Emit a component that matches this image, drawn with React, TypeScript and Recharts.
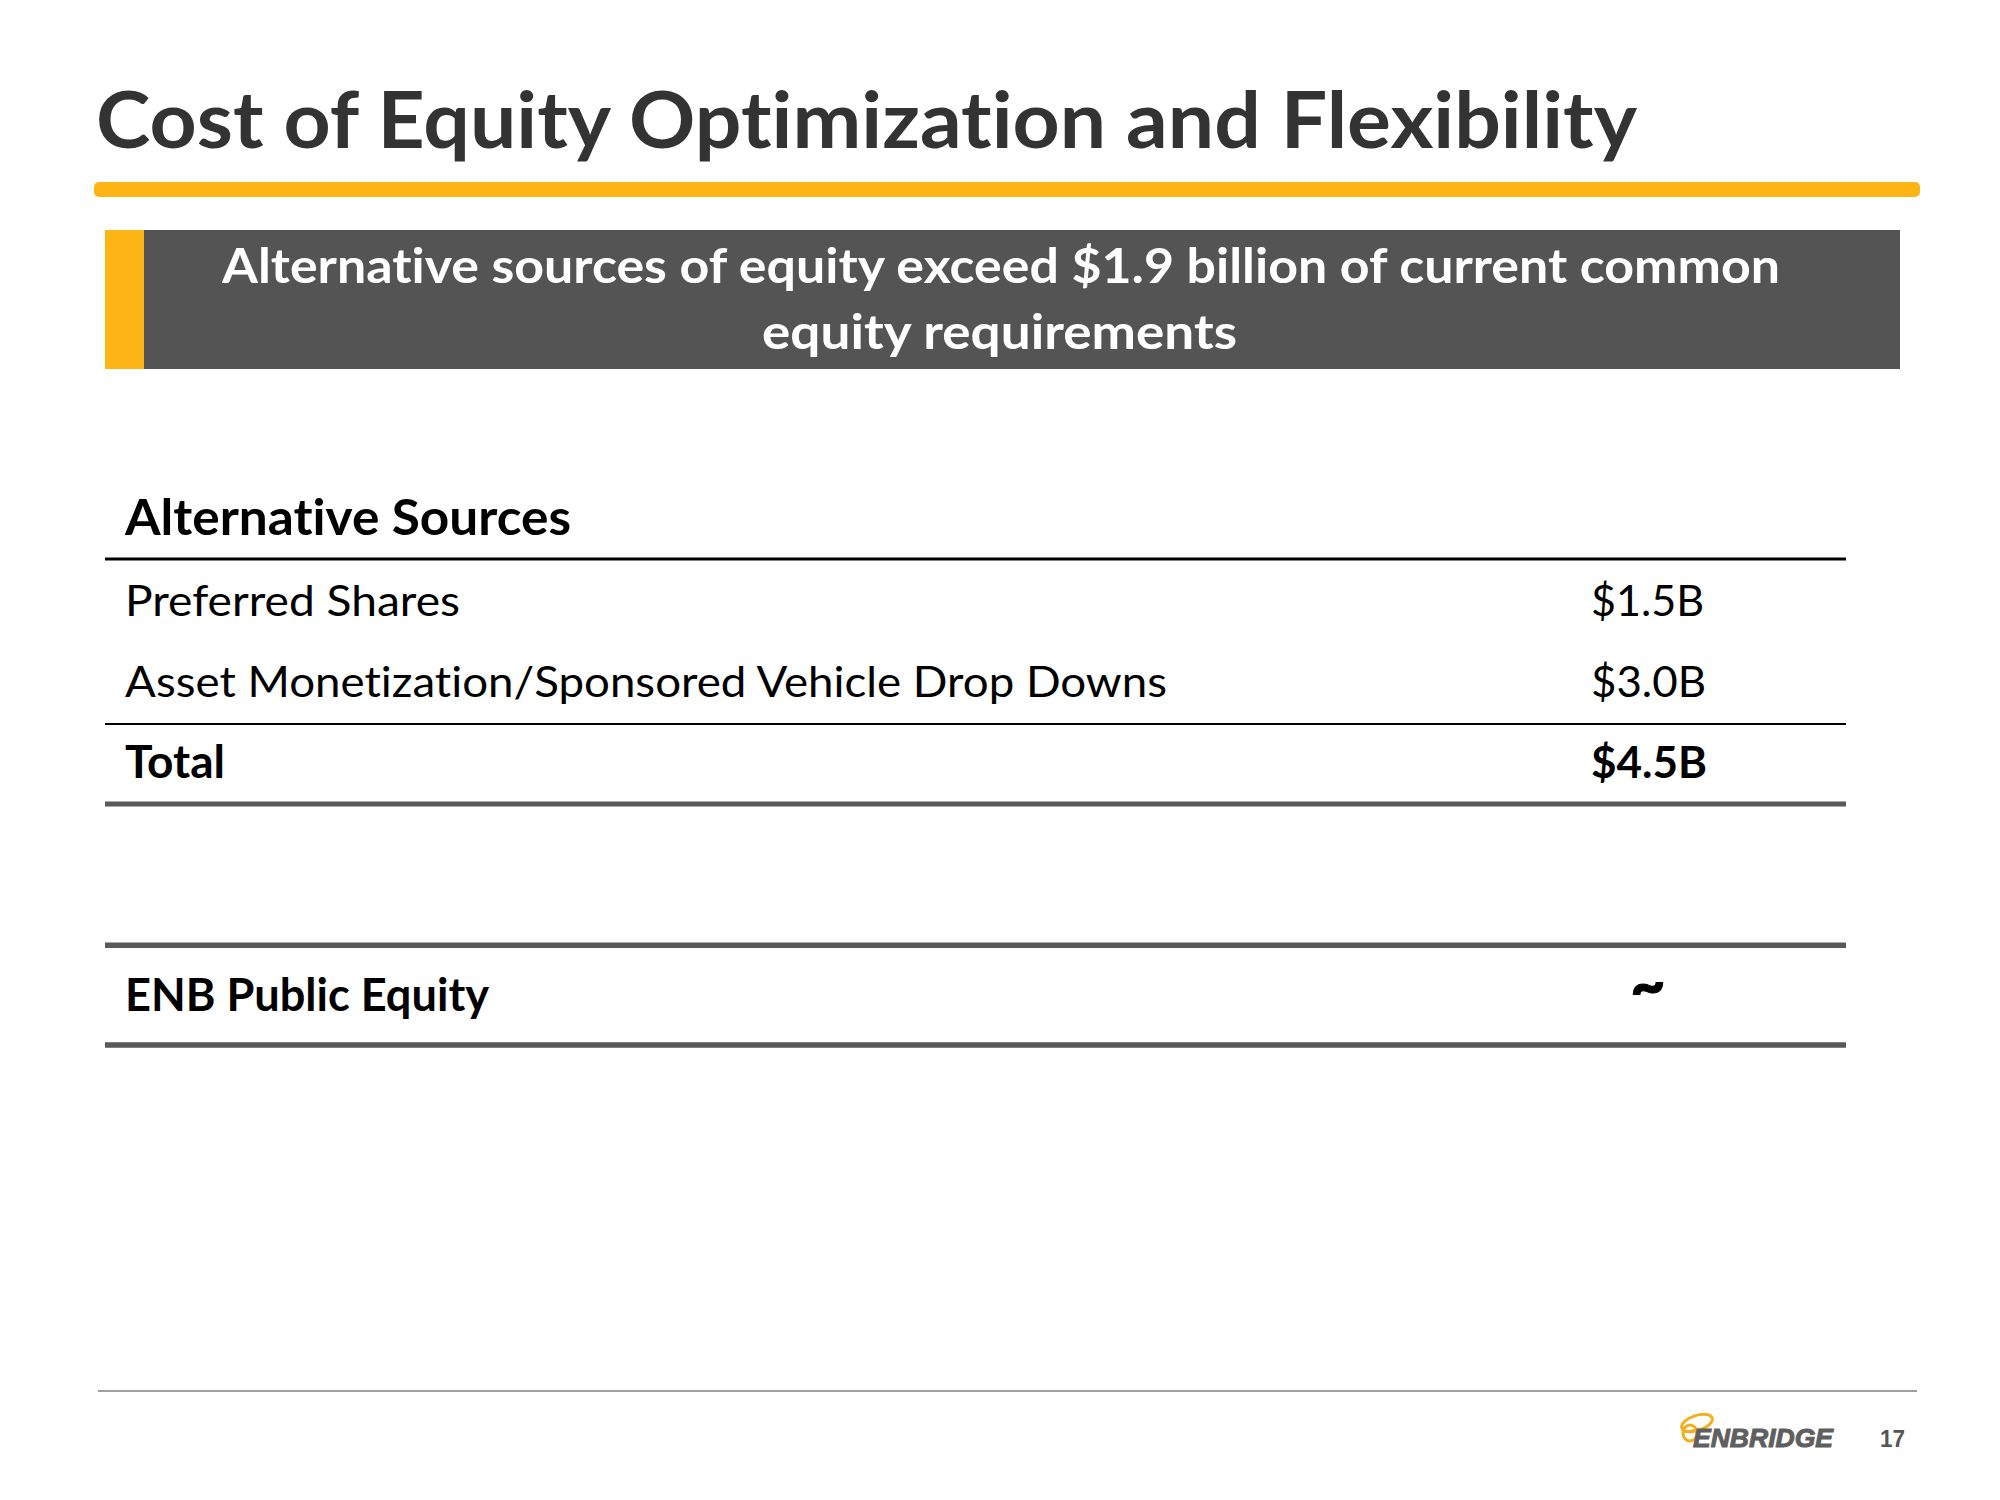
import React from 'react';
import { BarChart, Bar, XAxis, YAxis, LabelList, Customized } from 'recharts';

// ---------- data ----------
const titleText = 'Cost of Equity Optimization and Flexibility';
const bannerLines = ['Alternative sources of equity exceed $1.9 billion of current common', 'equity requirements'];
const tableHeader = 'Alternative Sources';
const rowLabels = ['Preferred Shares', 'Asset Monetization/Sponsored Vehicle Drop Downs', 'Total'];
const rowValues = [1.5, 3.0, 4.5];
const rowIsTotal = [false, false, true];
const publicLabel = 'ENB Public Equity';
const publicValue = '~';
const pageNumber = '17';
const logoText = 'ENBRIDGE';

const data = rowLabels.map((name, i) => ({ name, value: rowValues[i], display: `$${rowValues[i].toFixed(1)}B` }));

// ---------- layout / style ----------
const FONT = 'Lato, "Open Sans", sans-serif';
const NOLIG: React.CSSProperties = { fontVariantLigatures: 'none', fontFeatureSettings: '"liga" 0, "clig" 0' };
const YELLOW = '#FDB515';
const BANNER_GRAY = '#545454';
const RULE_GRAY = '#595959';
const TABLE_LEFT = 105;
const TABLE_RIGHT = 1846;
const NAME_X = 125;
const VALUE_X = 1591;
const nameWidths = [335, 1042, 100];
const valueWidths = [113, 115, 116];
const rowFontSize = [43, 43, 45];
const valueFontSize = [43, 43, 43];

const NameLabel = (props: any) => {
  const i = props.index ?? 0;
  const y = (props.y ?? 0) + (props.height ?? 0) / 2 + 15.5;
  return (
    <text x={NAME_X} y={y} fontFamily={FONT} fontSize={rowFontSize[i]} fontWeight={rowIsTotal[i] ? 700 : 400}
      fill="#000" style={NOLIG} textLength={nameWidths[i]} lengthAdjust="spacingAndGlyphs">{props.value}</text>
  );
};

const ValueLabel = (props: any) => {
  const i = props.index ?? 0;
  const y = (props.y ?? 0) + (props.height ?? 0) / 2 + 15.5;
  return (
    <text x={VALUE_X} y={y} fontFamily={FONT} fontSize={valueFontSize[i]} fontWeight={rowIsTotal[i] ? 700 : 400}
      fill="#000" style={NOLIG} textLength={valueWidths[i]} lengthAdjust="spacingAndGlyphs">{props.value}</text>
  );
};

const Decor = () => (
  <g style={NOLIG}>
    {/* title */}
    <text x={96} y={148} fontFamily={FONT} fontSize={78} fontWeight={700} fill="#333333" style={NOLIG}
      textLength={1541} lengthAdjust="spacingAndGlyphs">{titleText}</text>
    <rect x={94} y={182} width={1826} height={15} rx={5} fill={YELLOW} />

    {/* banner */}
    <rect x={105} y={230} width={39} height={139} fill={YELLOW} />
    <rect x={144} y={230} width={1756} height={139} fill={BANNER_GRAY} />
    <text x={222} y={283} fontFamily={FONT} fontSize={47.5} fontWeight={700} fill="#fff" style={NOLIG}
      textLength={1558} lengthAdjust="spacingAndGlyphs">{bannerLines[0]}</text>
    <text x={762} y={349} fontFamily={FONT} fontSize={47.5} fontWeight={700} fill="#fff" style={NOLIG}
      textLength={475} lengthAdjust="spacingAndGlyphs">{bannerLines[1]}</text>

    {/* table header and rules */}
    <text x={NAME_X} y={535} fontFamily={FONT} fontSize={49} fontWeight={700} fill="#000" style={NOLIG}
      textLength={446} lengthAdjust="spacingAndGlyphs">{tableHeader}</text>
    <line x1={TABLE_LEFT} x2={TABLE_RIGHT} y1={559} y2={559} stroke="#000" strokeWidth={3} />
    <line x1={TABLE_LEFT} x2={TABLE_RIGHT} y1={724} y2={724} stroke="#000" strokeWidth={2} />
    <line x1={TABLE_LEFT} x2={TABLE_RIGHT} y1={804} y2={804} stroke={RULE_GRAY} strokeWidth={5} />

    {/* ENB public equity */}
    <line x1={TABLE_LEFT} x2={TABLE_RIGHT} y1={945.3} y2={945.3} stroke={RULE_GRAY} strokeWidth={5.5} />
    <text x={NAME_X} y={1011} fontFamily={FONT} fontSize={45} fontWeight={700} fill="#000" style={NOLIG}
      textLength={364} lengthAdjust="spacingAndGlyphs">{publicLabel}</text>
    <text x={1648} y={1006} fontFamily={FONT} fontSize={60} fontWeight={900} fill="#000" textAnchor="middle"
      stroke="#000" strokeWidth={1}>{publicValue}</text>
    <line x1={TABLE_LEFT} x2={TABLE_RIGHT} y1={1045} y2={1045} stroke={RULE_GRAY} strokeWidth={5.5} />

    {/* footer */}
    <line x1={98} x2={1917} y1={1391} y2={1391} stroke="#7f7f7f" strokeWidth={1.5} />
    <ellipse cx={1697} cy={1423} rx={16} ry={7.5} fill="none" stroke="#F2B01E" strokeWidth={3} transform="rotate(-18 1697 1423)" />
    <ellipse cx={1690} cy={1433} rx={7} ry={8} fill="none" stroke="#F2B01E" strokeWidth={3} />
    <line x1={1684} x2={1697} y1={1432} y2={1430} stroke="#F2B01E" strokeWidth={2.5} />
    <text x={1693} y={1447} fontFamily='"Liberation Sans", Arial, sans-serif' fontSize={26} fontWeight={700}
      fontStyle="italic" fill="#5f5f5f" stroke="#5f5f5f" strokeWidth={1} textLength={140} lengthAdjust="spacingAndGlyphs">{logoText}</text>
    <text x={1880} y={1447} fontFamily='"Liberation Sans", Arial, sans-serif' fontSize={23} fontWeight={700}
      fill="#555555" textLength={25} lengthAdjust="spacingAndGlyphs">{pageNumber}</text>
  </g>
);

export default function App() {
  return (
    <div style={{ position: 'absolute', left: 0, top: 0, width: 2000, height: 1500, background: '#fff', ...NOLIG }}>
      <BarChart width={2000} height={1500} data={data} layout="vertical"
        margin={{ top: 560, right: 2000 - TABLE_RIGHT, bottom: 697, left: TABLE_LEFT }}>
        <XAxis type="number" domain={[0, 5]} hide />
        <YAxis type="category" dataKey="name" hide />
        <Customized component={Decor} />
        <Bar dataKey="value" fill="transparent" isAnimationActive={false}>
          <LabelList dataKey="name" content={NameLabel} />
          <LabelList dataKey="display" content={ValueLabel} />
        </Bar>
      </BarChart>
    </div>
  );
}
